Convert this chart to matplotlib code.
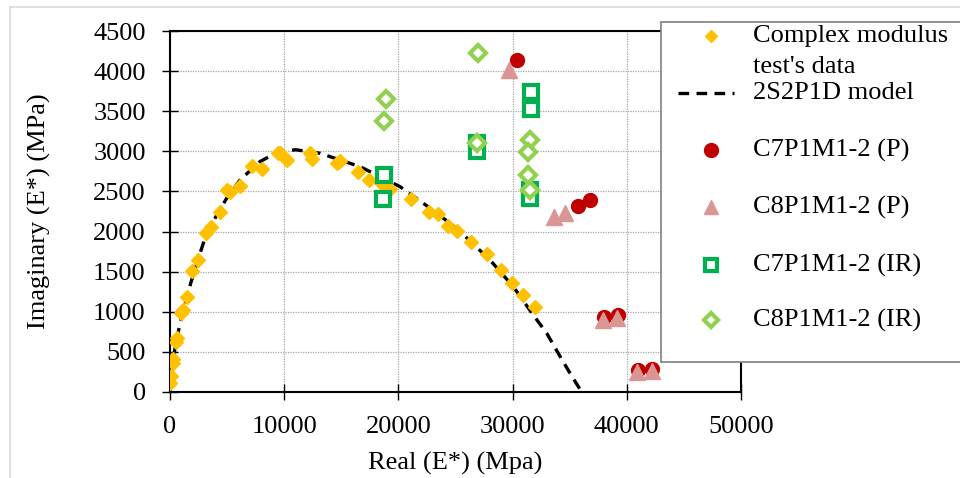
import numpy as np
import matplotlib
matplotlib.use('Agg')
import matplotlib.pyplot as plt
from matplotlib.lines import Line2D
from matplotlib.patches import Rectangle

plt.rcParams['font.family'] = ['Liberation Serif', 'DejaVu Serif']

# Complex modulus test's data (real, imaginary) in MPa
cm_real = [0, 90, 290, 290, 525, 640, 960, 1110, 1460, 1955, 2420, 3120, 3590,
           4380, 4960, 5250, 6130, 7150, 8030, 9490, 9630, 10220, 12260, 12400,
           14600, 14890, 16490, 17460, 18450, 19260, 21080, 22710, 23500, 24380,
           25100, 26330, 27730, 28960, 29950, 30940, 31960]
cm_imag = [108, 200, 358, 408, 627, 670, 981, 1022, 1189, 1509, 1646, 1987, 2062,
           2248, 2519, 2498, 2569, 2818, 2777, 2984, 2976, 2893, 2976, 2901,
           2852, 2884, 2747, 2643, 2602, 2527, 2406, 2248, 2216, 2070,
           2007, 1874, 1721, 1521, 1363, 1209, 1064]

# 2S2P1D model curve
model_real = [0, 150, 440, 875, 1810, 2630, 3060, 3940, 4960, 6130, 7880, 9340,
              11000, 13130, 16640, 20140, 22180, 25100, 28020, 30060, 31810,
              32990, 34000, 35030, 36050]
model_imag = [0, 300, 544, 857, 1355, 1729, 1916, 2166, 2415, 2643, 2872, 2984,
              3020, 2976, 2809, 2560, 2353, 2041, 1646, 1313, 960,
              732, 482, 233, 0]

c7p_real = [30400, 35700, 36800, 38000, 39200, 41000, 42200]
c7p_imag = [4140, 2320, 2390, 940, 960, 280, 285]

c8p_real = [29650, 33630, 34590, 37940, 39170, 40870, 42180]
c8p_imag = [4020, 2178, 2236, 898, 926, 253, 262]

c7ir_real = [18740, 18680, 31580, 31580, 26900, 26900, 31500, 31500]
c7ir_imag = [2706, 2403, 3737, 3529, 3100, 3010, 2520, 2420]

c8ir_real = [18880, 18770, 26930, 26850, 31520, 31370, 31370, 31520]
c8ir_imag = [3649, 3383, 4231, 3100, 3142, 2996, 2706, 2519]

labels = ["Complex modulus", "test's data", "2S2P1D model", "C7P1M1-2 (P)",
          "C8P1M1-2 (P)", "C7P1M1-2 (IR)", "C8P1M1-2 (IR)"]

yellow = '#FFC000'
red = '#C00000'
pink = '#DA9694'
green = '#00B050'
lgreen = '#92D050'
fs = 19

W, H = 960, 478
fig = plt.figure(figsize=(9.6, 4.78), dpi=100)
ax = fig.add_axes([170 / W, 1 - 392 / H, 571 / W, 361 / H])

dash = (0, (3.2, 2.2))
ax.plot(model_real, model_imag, color='black', lw=2.4, ls=dash, zorder=3)
ax.plot(cm_real, cm_imag, ls='none', marker='D', ms=7.5, color=yellow, zorder=4)
ax.plot(c7p_real, c7p_imag, ls='none', marker='o', ms=10, color=red, zorder=5)
ax.plot(c8p_real, c8p_imag, ls='none', marker='^', ms=11, color=pink, zorder=6)
ax.plot(c7ir_real, c7ir_imag, ls='none', marker='s', ms=9.5, mfc='white', mec=green,
        mew=3, zorder=7)
ax.plot(c8ir_real, c8ir_imag, ls='none', marker='D', ms=8.5, mfc='white', mec=lgreen,
        mew=3, zorder=8)

ax.set_xlim(0, 50000)
ax.set_ylim(0, 4500)
ax.set_xticks(np.arange(0, 50001, 10000))
ax.set_yticks(np.arange(0, 4501, 500))
ax.grid(True, color='#a6a6a6', ls=(0, (1, 1)), lw=0.9)
ax.set_axisbelow(True)
for s in ax.spines.values():
    s.set_linewidth(1.5)
ax.tick_params(direction='inout', length=11, width=1, labelsize=fs, pad=12)
ax.set_xlabel('Real (E*) (Mpa)', fontsize=fs, labelpad=10)
ax.set_ylabel('Imaginary (E*) (MPa)', fontsize=fs, labelpad=30)


def fx(px):
    return px / W


def fy(py):
    return 1 - py / H


# figure frame (light grey)
fig.add_artist(Line2D([fx(10), 1], [fy(7), fy(7)], color='#d9d9d9', lw=1.2))
fig.add_artist(Line2D([fx(10), fx(10)], [0, fy(7)], color='#d9d9d9', lw=1.2))

# legend drawn by hand (Excel-style spacing)
fig.add_artist(Rectangle((fx(661), fy(362)), fx(400), (362 - 22) / H,
                         facecolor='white', edgecolor='#7f7f7f', lw=1.2, zorder=10))
mx, tx = fx(711), fx(753)
rows = [36, 67, 93, 150, 207, 265, 320]
for lab, py in zip(labels, rows):
    fig.text(tx, fy(py), lab, fontsize=fs, va='center', ha='left', zorder=11)
fig.add_artist(Line2D([mx], [fy(36)], ls='none', marker='D', ms=6, color=yellow, zorder=11))
fig.add_artist(Line2D([fx(678), fx(734)], [fy(93), fy(93)], color='black', lw=2.4,
                      ls=dash, zorder=11))
fig.add_artist(Line2D([mx], [fy(150)], ls='none', marker='o', ms=10, color=red, zorder=11))
fig.add_artist(Line2D([mx], [fy(207)], ls='none', marker='^', ms=10, color=pink, zorder=11))
fig.add_artist(Line2D([mx], [fy(265)], ls='none', marker='s', ms=8, mfc='white',
                      mec=green, mew=3, zorder=11))
fig.add_artist(Line2D([mx], [fy(320)], ls='none', marker='D', ms=7, mfc='white',
                      mec=lgreen, mew=3, zorder=11))

fig.savefig('out.png', dpi=100)
